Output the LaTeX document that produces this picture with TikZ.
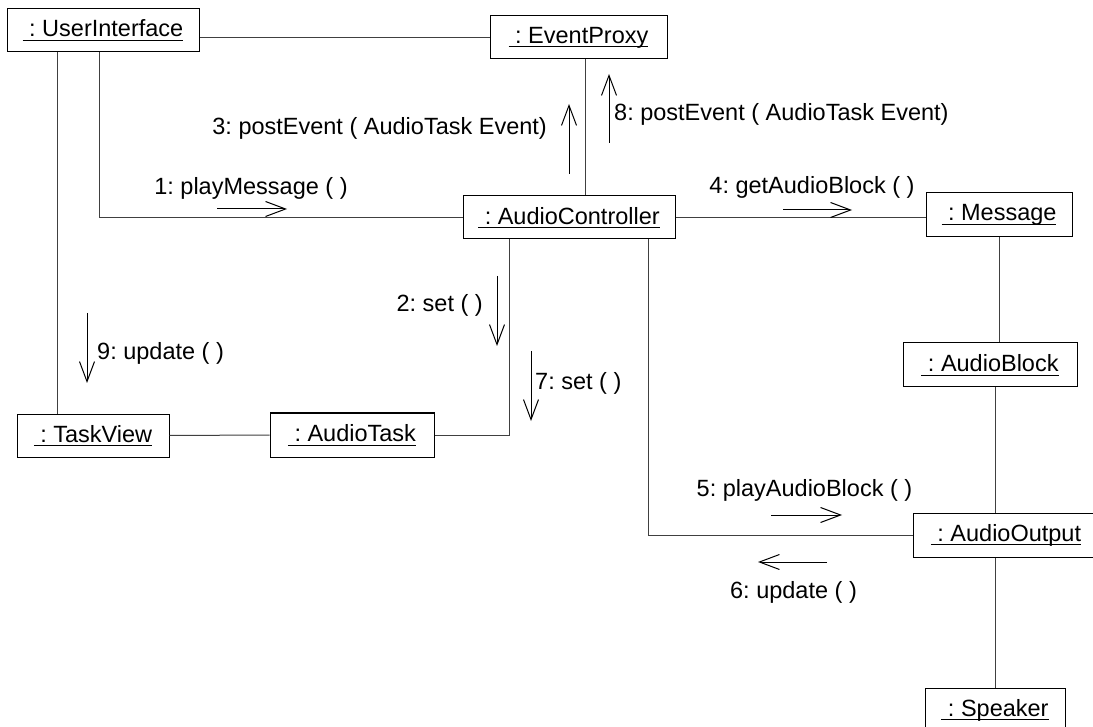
\documentclass[tikz,border=0pt]{standalone}
\usepackage{fontspec}
\setmainfont{Liberation Sans}
\usetikzlibrary{arrows.meta}
\newcommand{\objname}[1]{\setbox0=\hbox{#1}\rlap{\rule[-4pt]{\wd0}{1pt}}\box0}
\tikzset{
  objbox/.style={draw=black, line width=1pt, inner sep=0pt, rectangle, font=\fontsize{23.5}{28}\selectfont},
  link/.style={draw=black!75, line width=1pt},
  msg/.style={draw=black, line width=1pt, -{Straight Barb[length=20pt,width=15pt,line width=1pt]}},
  msglabel/.style={inner sep=0pt, font=\fontsize{23.5}{28}\selectfont}
}
\begin{document}
\frenchspacing
\begin{tikzpicture}[x=1pt,y=-1pt]
\useasboundingbox (0,0) rectangle (1093,727);
\fill[white] (0,0) rectangle (1093,727);
\clip (0,0) rectangle (1093,727);

% objects
\node[objbox, minimum width=192pt, minimum height=43pt] (UI) at (103,30.5) {\objname{\ : UserInterface}};
\node[objbox, minimum width=177pt, minimum height=43pt] (EP) at (578.5,37.5) {\objname{\ : EventProxy}};
\node[objbox, minimum width=212pt, minimum height=43pt] (AC) at (569,217.5) {\objname{\ : AudioController}};
\node[objbox, minimum width=146pt, minimum height=44pt] (MS) at (999,215) {\objname{\ : Message}};
\node[objbox, minimum width=174pt, minimum height=44pt] (AB) at (990,365) {\objname{\ : AudioBlock}};
\node[objbox, minimum width=152pt, minimum height=43pt] (TV) at (93,435.5) {\objname{\ : TaskView}};
\node[objbox, minimum width=164pt, minimum height=44pt] (AT) at (352,435) {\objname{\ : AudioTask}};
\node[objbox, minimum width=186pt, minimum height=44pt] (AO) at (1006,535) {\objname{\ : AudioOutput}};
\node[objbox, minimum width=140pt, minimum height=44pt] (SP) at (995,710) {\objname{\ : Speaker}};

% links
\draw[link] (EP.west) -- (EP.west -| UI.east);
\coordinate (uiA) at ([xshift=51pt]UI.south west);
\draw[link] (uiA) -- (uiA |- TV.north);
\coordinate (uiB) at ([xshift=93pt]UI.south west);
\draw[link] (uiB) |- (AC.west);
\coordinate (epA) at ([xshift=6.5pt]EP.south);
\draw[link] (epA) -- (epA |- AC.north);
\draw[link] (AC.east) -- (AC.east -| MS.west);
\draw[link] (MS.south) -- (MS.south |- AB.north);
\coordinate (abA) at ([xshift=5pt]AB.south);
\draw[link] (abA) -- (abA |- AO.north);
\draw[link] (SP.north) -- (SP.north |- AO.south);
\coordinate (acR) at ([xshift=79pt]AC.south);
\draw[link] (acR) |- (AO.west);
\coordinate (acL) at ([xshift=-60pt]AC.south);
\draw[link] (acL) |- (AT.east);
\draw[link] (TV.east) -- (AT.west);

% message arrows
\coordinate (m1s) at (217,209); \coordinate (m1e) at (287,209);
\coordinate (m2s) at (497,276); \coordinate (m2e) at (497,346);
\coordinate (m3s) at (569,174); \coordinate (m3e) at (569,104);
\coordinate (m4s) at (783,210); \coordinate (m4e) at (852,210);
\coordinate (m5s) at (771,515); \coordinate (m5e) at (842,515);
\coordinate (m6s) at (827,562); \coordinate (m6e) at (758,562);
\coordinate (m7s) at (531,351); \coordinate (m7e) at (531,421);
\coordinate (m8s) at (609,143); \coordinate (m8e) at (609,74);
\coordinate (m9s) at (87,313);  \coordinate (m9e) at (87,383);
\draw[msg] (m1s) -- (m1e);
\draw[msg] (m2s) -- (m2e);
\draw[msg] (m3s) -- (m3e);
\draw[msg] (m4s) -- (m4e);
\draw[msg] (m5s) -- (m5e);
\draw[msg] (m6s) -- (m6e);
\draw[msg] (m7s) -- (m7e);
\draw[msg] (m8s) -- (m8e);
\draw[msg] (m9s) -- (m9e);

% labels
\node[msglabel] (l1) at (251,188) {1: playMessage ( )};
\node[msglabel, anchor=east] (l2) at (483,305) {2: set ( )};
\node[msglabel, anchor=east] (l3) at (547,128) {3: postEvent ( AudioTask Event)};
\node[msglabel] (l4) at (812,187) {4: getAudioBlock ( )};
\node[msglabel] (l5) at (804.5,490) {5: playAudioBlock ( )};
\node[msglabel] (l6) at (793.5,592) {6: update ( )};
\node[msglabel, anchor=west] (l7) at (535,383) {7: set ( )};
\node[msglabel, anchor=west] (l8) at (614,114) {8: postEvent ( AudioTask Event)};
\node[msglabel, anchor=west] (l9) at (97,353) {9: update ( )};
\end{tikzpicture}
\end{document}
